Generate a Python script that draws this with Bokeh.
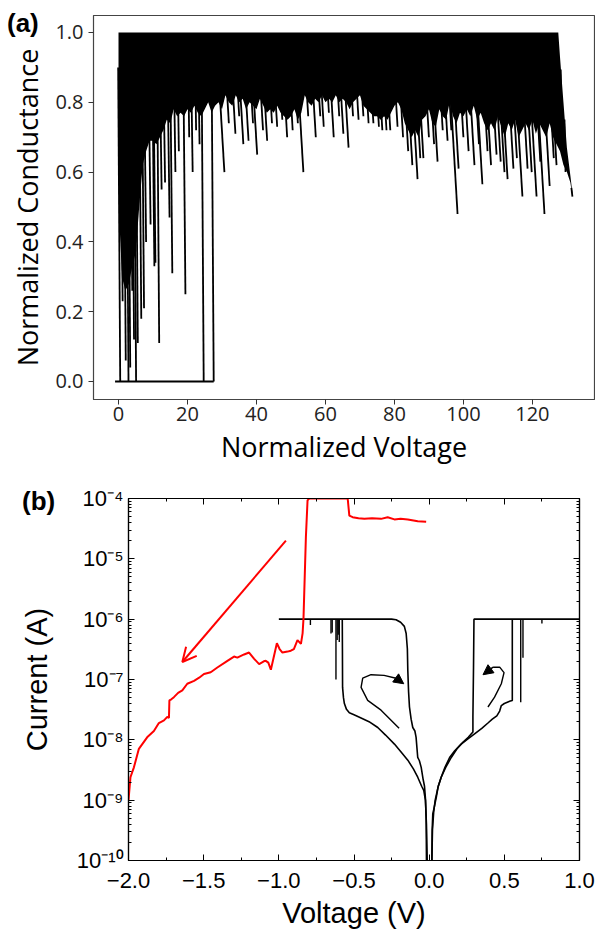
import numpy as np
from bokeh.plotting import figure
from bokeh.models import (Range1d, LinearAxis, LogAxis, FixedTicker, CustomJSTickFormatter,
                          PrintfTickFormatter, Arrow, OpenHead, NormalHead, Div, GridBox)
from bokeh.embed import file_html
from bokeh.resources import INLINE

# ---------------- Panel (a) data ----------------
a_x_ticks = [0, 20, 40, 60, 80, 100, 120]
a_y_ticks = [0.0, 0.2, 0.4, 0.6, 0.8, 1.0]

# lower edge of the dense (solid black) band and its upper edge
a_env_x = [0, 0.3, 1, 2, 3, 4, 5, 6, 7, 8, 9, 10, 11, 12, 13, 14, 15, 16, 17, 18, 19,
           20, 21, 22, 23, 24, 25, 26, 27, 28, 29, 30, 31, 32, 33, 34, 35, 36, 37, 38, 39,
           40, 41, 42, 43, 44, 45, 46, 47, 48, 49, 50, 51, 52, 53, 54, 55, 56, 57, 58, 59,
           60, 61, 62, 63, 64, 65, 66, 67, 68, 69, 70, 71, 72, 73, 74, 75, 76, 77, 78, 79,
           80, 81, 82, 83, 84, 85, 86, 87, 88, 89, 90, 91, 92, 93, 94, 95, 96, 97, 98, 99,
           100, 101, 102, 103, 104, 105, 106, 107, 108, 109, 110, 111, 112, 113, 114, 115,
           116, 117, 118, 119, 120, 121, 122, 123, 124, 125, 126, 127, 127.5, 128, 129, 130,
           131, 131.6]
a_env_y = [0.59, 0.45, 0.30, 0.26, 0.28, 0.33, 0.37, 0.50, 0.62, 0.66, 0.69, 0.69, 0.68, 0.70,
           0.72, 0.75, 0.74, 0.78, 0.76, 0.77, 0.76,
           0.78, 0.77, 0.79, 0.77, 0.76, 0.78, 0.80, 0.77, 0.79, 0.80, 0.78, 0.82, 0.80, 0.79,
           0.82, 0.80, 0.81, 0.78, 0.80, 0.79,
           0.78, 0.81, 0.79, 0.77, 0.78, 0.77, 0.79, 0.77, 0.76, 0.75, 0.76, 0.78, 0.75, 0.77,
           0.82, 0.80, 0.79, 0.81, 0.80, 0.82,
           0.80, 0.81, 0.80, 0.82, 0.80, 0.81, 0.80, 0.78, 0.80, 0.81, 0.82, 0.79, 0.78, 0.77,
           0.76, 0.76, 0.75, 0.76, 0.75, 0.77,
           0.79, 0.80, 0.78, 0.74, 0.72, 0.70, 0.72, 0.70, 0.75, 0.76, 0.78, 0.74, 0.73, 0.78,
           0.76, 0.75, 0.80, 0.76, 0.74, 0.77,
           0.76, 0.78, 0.76, 0.79, 0.75, 0.77, 0.74, 0.72, 0.74, 0.72, 0.76, 0.73, 0.70, 0.74,
           0.72, 0.75,
           0.70, 0.72, 0.74, 0.72, 0.75, 0.71, 0.74, 0.72, 0.70, 0.74, 0.70, 0.68, 0.67, 0.66,
           0.62, 0.60, 0.57, 0.53]
a_top_y = [1.0] * 130 + [0.93, 0.80, 0.67, 0.59, 0.54]

# individual conductance drops (lowest value reached) and falls to zero
a_spike_x = [0.5, 1.2, 2.1, 2.9, 3.4, 4.0, 4.5, 5.1, 5.6, 6.6, 7.4, 8.0, 9.3, 10.4, 10.7, 11.8,
             12.5, 13.5, 14.8, 15.6, 16.5, 17.5, 19.4, 20.5, 21.5, 22.5, 23.5, 24.7, 27.6,
             30.7, 32.0, 33.9, 35.0, 36.2, 37.7, 39.0, 40.2, 41.9, 43.1, 44.5, 46.0, 47.5,
             48.9, 50.5, 52.0, 53.6, 55.0, 57.2, 58.5, 59.5, 61.0, 62.4, 64.0, 65.2, 66.7,
             68.0, 69.6, 71.0, 72.5, 73.9, 75.5, 76.5, 77.7, 78.8, 80.9, 82.5, 84.0, 85.2,
             86.7, 87.5, 88.4, 90.0, 91.5, 92.5, 94.0, 95.4, 96.5, 98.3, 98.6, 100.0, 101.5,
             103.2, 104.5, 105.5, 107.0, 108.0, 109.6, 110.8, 111.9, 112.8, 114.5, 115.5,
             117.1, 118.6, 119.8, 121.2, 122.3, 123.5, 125.0, 126.2, 127.0, 128.5, 129.6,
             131.6]
a_spike_y = [0.0, 0.23, 0.06, 0.0, 0.04, 0.26, 0.12, 0.0, 0.11, 0.18, 0.21, 0.40, 0.45, 0.33,
             0.34, 0.11, 0.55, 0.57, 0.47, 0.31, 0.60, 0.66, 0.25, 0.70, 0.60, 0.72, 0.68,
             0.0, 0.0,
             0.60, 0.74, 0.71, 0.76, 0.68, 0.69, 0.74, 0.65, 0.72, 0.69, 0.74, 0.73, 0.75,
             0.70, 0.72, 0.74, 0.60, 0.76, 0.70, 0.76, 0.73, 0.77, 0.70, 0.76, 0.71, 0.67,
             0.76, 0.75, 0.76, 0.74, 0.74, 0.73, 0.72, 0.72, 0.72, 0.73, 0.70, 0.66, 0.62,
             0.58, 0.64, 0.64, 0.70, 0.68, 0.63, 0.72, 0.69, 0.72, 0.48, 0.61, 0.70, 0.66,
             0.62, 0.68, 0.565, 0.66, 0.62, 0.65, 0.63, 0.60, 0.58, 0.61, 0.64,
             0.53, 0.61, 0.60, 0.53, 0.63, 0.48, 0.56, 0.64, 0.62, 0.66, 0.60,
             0.53]
a_base_x = [-1.0, 27.6]
a_base_y = [0.0, 0.0]

# ---------------- Panel (b) data ----------------
b_x_ticks = [-2.0, -1.5, -1.0, -0.5, 0.0, 0.5, 1.0]
b_x_tick_labels = ["\u22122.0", "\u22121.5", "\u22121.0", "\u22120.5", "0.0", "0.5", "1.0"]
b_x_minor = [-1.75, -1.25, -0.75, -0.25, 0.25, 0.75]
b_y_exponents = [-10, -9, -8, -7, -6, -5, -4]
b_y_tick_labels = ["10\u207b\u00b9\u2070", "10\u207b\u2079", "10\u207b\u2078", "10\u207b\u2077",
                   "10\u207b\u2076", "10\u207b\u2075", "10\u207b\u2074"]

red_v = [-2.0, -1.987, -1.964, -1.931, -1.876, -1.831, -1.798, -1.764, -1.742, -1.731, -1.728,
         -1.715, -1.698, -1.67, -1.642, -1.609, -1.564, -1.53, -1.498, -1.453, -1.409, -1.342,
         -1.298, -1.276, -1.231, -1.198, -1.164, -1.131, -1.10, -1.087, -1.07, -1.053, -1.013,
         -0.995, -0.976, -0.942, -0.92, -0.9, -0.876, -0.853, -0.842, -0.836, -0.82, -0.809,
         -0.798, -0.542, -0.531, -0.509, -0.47, -0.431, -0.38, -0.32, -0.276, -0.231, -0.19,
         -0.142, -0.076, -0.02]
red_i = [1.0e-9, 2.4e-9, 3.5e-9, 7.1e-9, 1.1e-8, 1.4e-8, 1.9e-8, 2.1e-8, 2.4e-8, 2.3e-8, 4.5e-8,
         4.7e-8, 5.1e-8, 6.0e-8, 6.6e-8, 8.5e-8, 9.5e-8, 1.07e-7, 1.23e-7, 1.32e-7, 1.58e-7,
         2.04e-7, 2.4e-7, 2.3e-7, 2.6e-7, 2.8e-7, 2.2e-7, 1.8e-7, 2.0e-7, 2.04e-7, 1.9e-7,
         1.45e-7, 4.0e-7, 3.2e-7, 2.8e-7, 2.9e-7, 3.0e-7, 3.2e-7, 4.5e-7, 3.9e-7, 5.8e-7,
         1.02e-6, 2.3e-5, 9.3e-5, 1.0e-4, 1.0e-4, 5.2e-5, 4.9e-5, 4.7e-5, 4.6e-5, 4.7e-5,
         4.6e-5, 4.9e-5, 4.5e-5, 4.6e-5, 4.5e-5, 4.2e-5, 4.1e-5]

blk1_v = [-1.0, -0.25, -0.22, -0.19, -0.165, -0.153, -0.145, -0.142, -0.137, -0.131, -0.12,
          -0.109, -0.095, -0.087, -0.076, -0.065, -0.053, -0.04, -0.031, -0.024, -0.02, -0.018]
blk1_i = [1e-6, 1e-6, 9.8e-7, 8.9e-7, 7.6e-7, 5.8e-7, 3.2e-7, 1.4e-7, 6.3e-8, 3.5e-8, 2.2e-8,
          1.6e-8, 1.4e-8, 1.1e-8, 5.1e-9, 4.5e-9, 3.5e-9, 2.2e-9, 1.7e-9, 1.0e-9, 5e-10, 1e-10]

blk2_v = [-0.578, -0.577, -0.576, -0.57, -0.564, -0.55, -0.531, -0.5, -0.453, -0.40, -0.342,
          -0.29, -0.231, -0.18, -0.142, -0.105, -0.076, -0.05, -0.036, -0.025, -0.018, -0.013]
blk2_i = [1e-6, 3.2e-7, 7.4e-8, 5.0e-8, 4.0e-8, 3.2e-8, 2.8e-8, 2.6e-8, 2.3e-8, 2.0e-8, 1.6e-8,
          1.2e-8, 8.5e-9, 6.0e-9, 4.6e-9, 3.3e-9, 2.4e-9, 1.7e-9, 1.45e-9, 1.0e-9, 4.0e-10,
          1e-10]

blk3_v = [1.0, 0.298, 0.295, 0.291, 0.291, 0.26, 0.224, 0.185, 0.147, 0.11, 0.08, 0.06, 0.047,
          0.035, 0.024, 0.02, 0.018]
blk3_i = [1e-6, 1e-6, 1.6e-7, 2.4e-8, 1.35e-8, 1.1e-8, 9.1e-9, 7.1e-9, 5.1e-9, 3.5e-9, 2.4e-9,
          1.7e-9, 1.1e-9, 7.9e-10, 5.9e-10, 3.2e-10, 1e-10]

blk4_v = [0.553, 0.553, 0.54, 0.50, 0.48, 0.469, 0.45, 0.42, 0.391, 0.35, 0.302, 0.26, 0.213,
          0.17, 0.136, 0.105, 0.08, 0.058, 0.04, 0.03, 0.022, 0.018]
blk4_i = [1e-6, 4.5e-8, 4.4e-8, 4.0e-8, 3.7e-8, 3.0e-8, 2.5e-8, 2.2e-8, 1.9e-8, 1.55e-8,
          1.26e-8, 1.05e-8, 8.5e-9, 6.6e-9, 5.1e-9, 3.5e-9, 2.4e-9, 1.6e-9, 1.0e-9, 6.3e-10,
          3.2e-10, 1e-10]

# short drops hanging from the 1 uA compliance level
spike_v = [-0.79, -0.653, -0.645, -0.62, -0.612, -0.605, -0.598, 0.609, 0.624, 0.75]
spike_i = [8.0e-7, 5.8e-7, 6.0e-7, 1.0e-7, 4.5e-7, 5.5e-7, 4.2e-7, 4.2e-8, 2.3e-7, 8.5e-7]

# annotation arrows
red_arrow_v = [-0.953, -1.642]
red_arrow_i = [2.0e-5, 1.95e-7]
loop1_v = [-0.2, -0.32, -0.409, -0.453, -0.442, -0.387, -0.30, -0.22]
loop1_i = [1.55e-8, 3.1e-8, 4.5e-8, 7.4e-8, 1.05e-7, 1.2e-7, 1.17e-7, 1.05e-7]
loop1_tip = (-0.169, 8.5e-8)
loop2_v = [0.391, 0.435, 0.48, 0.498, 0.469, 0.425]
loop2_i = [3.5e-8, 5.1e-8, 8.5e-8, 1.3e-7, 1.6e-7, 1.6e-7]
loop2_tip = (0.358, 1.2e-7)

# ================= Panel (a) =================
FA = "Open Sans"
p1 = figure(frame_width=501, frame_height=384,
            x_range=Range1d(-7.25, 138.0), y_range=Range1d(-0.0516, 1.0487),
            output_backend="svg", toolbar_location=None,
            min_border_left=93, min_border_right=1, min_border_top=15, min_border_bottom=78)
p1.grid.visible = False
p1.outline_line_color = "#444444"
p1.outline_line_width = 1.2
p1.background_fill_color = "white"
p1.border_fill_color = "white"

p1.varea(x=a_env_x, y1=a_env_y, y2=a_top_y, fill_color="black")
sx0, sy0 = [], []
for x, y in zip(a_spike_x, a_spike_y):
    if x > 127:
        slant = 0.3
    elif x > 28:
        slant = min(2.5, 6 * (0.9 - y))
    else:
        slant = min(0.6, 1.5 * (0.9 - y))
    x0 = x - slant
    top_here = float(np.interp(x0, a_env_x, a_top_y))
    sx0.append(x0)
    sy0.append(min(0.9, top_here - 0.01))
p1.segment(x0=sx0, y0=sy0, x1=a_spike_x, y1=a_spike_y, line_color="black", line_width=1.8)
p1.line(a_base_x, a_base_y, line_color="black", line_width=2)

a_xax = p1.below[0]
a_yax = p1.left[0]
for ax in (a_xax, a_yax):
    ax.axis_line_color = "#444444"
    ax.major_tick_line_color = "#333333"
    ax.major_tick_out = 5
    ax.major_tick_in = 0
    ax.minor_tick_line_color = None
    ax.major_label_text_font = FA
    ax.major_label_text_font_size = "20px"
    ax.major_label_text_color = "#222222"
    ax.axis_label_text_font = FA
    ax.axis_label_text_font_size = "27px"
    ax.axis_label_text_font_style = "normal"
    ax.axis_label_text_color = "black"
a_xax.major_label_standoff = 2
a_xax.axis_label_standoff = 4
a_yax.major_label_standoff = 5
a_yax.axis_label_standoff = 6
a_xax.ticker = FixedTicker(ticks=a_x_ticks)
a_yax.ticker = FixedTicker(ticks=a_y_ticks)
a_yax.formatter = PrintfTickFormatter(format="%.1f")
a_xax.axis_label = "Normalized Voltage"
a_yax.axis_label = "Normalized Conductance"

# ================= Panel (b) =================
FB = "Liberation Sans"
p2 = figure(frame_width=451, frame_height=362,
            x_range=Range1d(-2, 1), y_range=Range1d(1e-10, 1e-4), y_axis_type="log",
            output_backend="svg", toolbar_location=None,
            min_border_left=128, min_border_right=16, min_border_top=21, min_border_bottom=78)
p2.grid.visible = False
p2.outline_line_color = "black"
p2.outline_line_width = 1.2
p2.background_fill_color = "white"
p2.border_fill_color = "white"

bw = 1.6
p2.line(blk1_v, blk1_i, line_color="black", line_width=bw)
p2.line(blk2_v, blk2_i, line_color="black", line_width=bw)
p2.line(blk3_v, blk3_i, line_color="black", line_width=bw)
p2.line(blk4_v, blk4_i, line_color="black", line_width=bw)
p2.segment(x0=spike_v, y0=[1e-6] * len(spike_v), x1=spike_v, y1=spike_i,
           line_color="black", line_width=1.4)
p2.line(red_v, red_i, line_color="#ff0000", line_width=2)

p2.add_layout(Arrow(end=OpenHead(size=14, line_color="#ff0000", line_width=2),
                    x_start=red_arrow_v[0], y_start=red_arrow_i[0],
                    x_end=red_arrow_v[1], y_end=red_arrow_i[1],
                    line_color="#ff0000", line_width=2))
p2.line(loop1_v, loop1_i, line_color="black", line_width=1.4)
p2.add_layout(Arrow(end=NormalHead(size=10, fill_color="black", line_color="black"),
                    x_start=loop1_v[-1], y_start=loop1_i[-1],
                    x_end=loop1_tip[0], y_end=loop1_tip[1],
                    line_color="black", line_width=1.4))
p2.line(loop2_v, loop2_i, line_color="black", line_width=1.4)
p2.add_layout(Arrow(end=NormalHead(size=10, fill_color="black", line_color="black"),
                    x_start=loop2_v[-1], y_start=loop2_i[-1],
                    x_end=loop2_tip[0], y_end=loop2_tip[1],
                    line_color="black", line_width=1.4))

xfmt = CustomJSTickFormatter(args=dict(tvals=b_x_ticks, tlabels=b_x_tick_labels), code="""
for (let k = 0; k < tvals.length; k++) { if (Math.abs(tvals[k] - tick) < 1e-6) return tlabels[k]; }
return '';
""")
yfmt = CustomJSTickFormatter(args=dict(exps=b_y_exponents, tlabels=b_y_tick_labels), code="""
const e = Math.round(Math.log10(tick));
const k = exps.indexOf(e);
return k >= 0 ? tlabels[k] : '';
""")
blank = CustomJSTickFormatter(code="return '';")

y_minor = [k * 10.0 ** e for e in range(-10, -4) for k in range(2, 10)]
xtick = FixedTicker(ticks=b_x_ticks, minor_ticks=b_x_minor)
ytick = FixedTicker(ticks=[10.0 ** e for e in b_y_exponents], minor_ticks=y_minor)

b_xax = p2.below[0]
b_yax = p2.left[0]
b_xax.ticker = xtick
b_yax.ticker = ytick
b_xax.formatter = xfmt
b_yax.formatter = yfmt
top_ax = LinearAxis(ticker=xtick, formatter=blank)
right_ax = LogAxis(ticker=ytick, formatter=blank)
p2.add_layout(top_ax, "above")
p2.add_layout(right_ax, "right")

for ax in (b_xax, b_yax, top_ax, right_ax):
    ax.axis_line_color = "black"
    ax.axis_line_width = 1.2
    ax.major_tick_line_color = "black"
    ax.minor_tick_line_color = "black"
    ax.major_tick_in = 6
    ax.major_tick_out = 0
    ax.minor_tick_in = 3
    ax.minor_tick_out = 0
    ax.major_label_text_font = FB
    ax.major_label_text_font_size = "22px"
    ax.major_label_text_color = "black"
    ax.axis_label_text_font = FB
    ax.axis_label_text_font_size = "29px"
    ax.axis_label_text_font_style = "normal"
    ax.axis_label_text_color = "black"
for ax in (top_ax, right_ax):
    ax.major_label_text_font_size = "1px"
    ax.major_label_standoff = 0
b_xax.major_label_standoff = 12
b_xax.axis_label_standoff = 6
b_yax.major_label_standoff = 5
b_yax.axis_label_standoff = 21
b_xax.axis_label = "Voltage (V)"
b_yax.axis_label = "Current (A)"

# panel letters, overlaid on the top-left corner of each panel
div_a = Div(text='<span style="font-family: \'Liberation Sans\', Arial, sans-serif; '
                 'font-weight: bold; font-size: 26px; color: black; line-height: 30px;">(a)</span>',
            width=48, height=32, margin=(8, 0, 0, 7))
div_b = Div(text='<span style="font-family: \'Liberation Sans\', Arial, sans-serif; '
                 'font-weight: bold; font-size: 26px; color: black; line-height: 30px;">(b)</span>',
            width=48, height=32, margin=(9, 0, 0, 22))

g1 = GridBox(children=[(p1, 0, 0), (div_a, 0, 0)])
g2 = GridBox(children=[(p2, 0, 0), (div_b, 0, 0)])

open("out.html", "w").write(file_html([g1, g2], INLINE))
